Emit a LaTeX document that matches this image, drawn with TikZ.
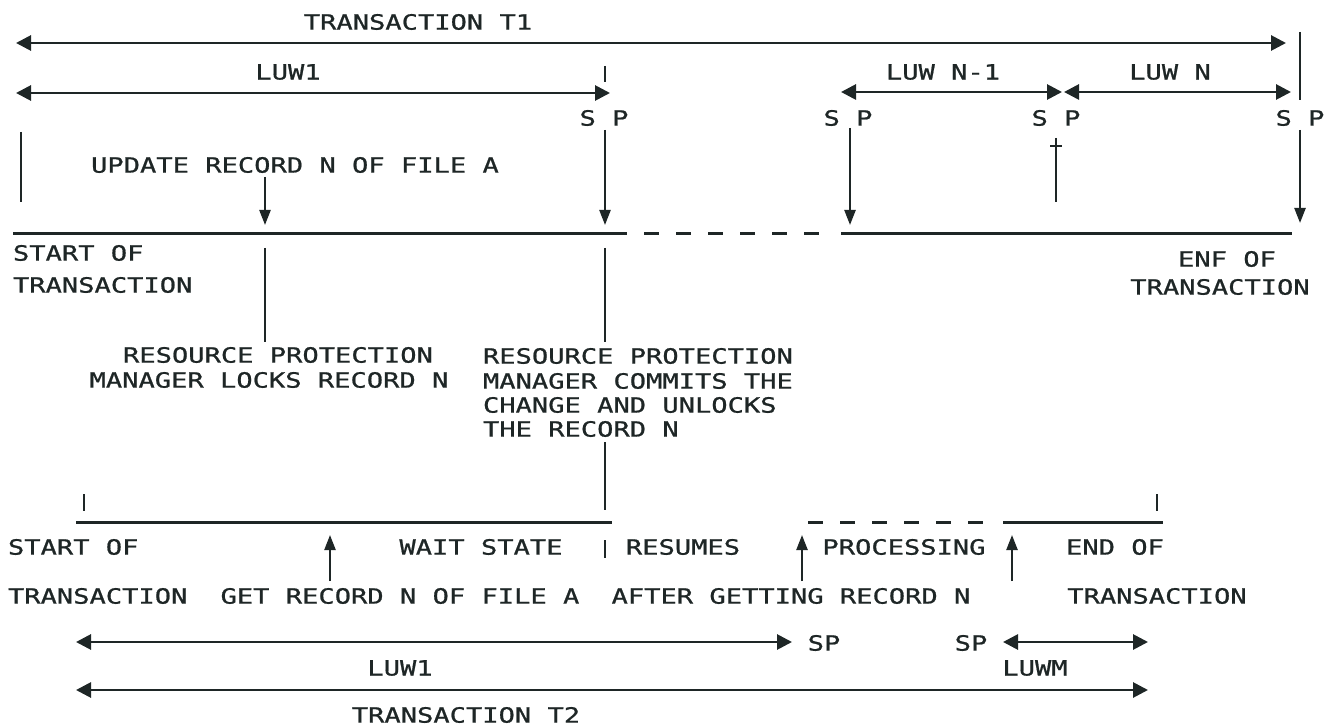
\documentclass[tikz,border=0pt]{standalone}
\usepackage{fontspec}
\newfontfamily\plotfont{DejaVu Sans Mono}[FakeStretch=1.29,FakeBold=0.9]
\usetikzlibrary{arrows.meta}
\definecolor{ink}{RGB}{30,38,38}
\begin{document}
\begin{tikzpicture}[x=1pt,y=-1pt,
  every node/.style={inner sep=0pt, outer sep=0pt, text=ink, font=\plotfont\fontsize{21}{25}\selectfont},
  lbl/.style={anchor=center},
  lblw/.style={anchor=west},
  tline/.style={draw=ink, line width=3pt},
  dline/.style={draw=ink, line width=3pt, dash pattern=on 15pt off 17pt},
  vline/.style={draw=ink, line width=2.3pt},
  span/.style={draw=ink, line width=2.8pt, {Triangle[length=15pt,width=15pt]}-{Triangle[length=15pt,width=15pt]}},
  varrow/.style={draw=ink, line width=2.3pt, -{Triangle[length=15pt,width=11pt]}}
]
\fill[white] (0,0) rectangle (1325,727);
\useasboundingbox (0,0) rectangle (1325,727);

% ---------- top texts ----------
\node[lbl] (t1) at (418,22) {TRANSACTION T1};
\node[lbl] (luw1t) at (288,72) {LUW1};
\node[lbl] (luwn1) at (943,72) {LUW N-1};
\node[lbl] (luwn) at (1170,72) {LUW N};
\node[lbl] (sp1) at (604,118) {S P};
\node[lbl] (sp2) at (848,118) {S P};
\node[lbl] (sp3) at (1056,118) {S P};
\node[lbl] (sp4) at (1300,118) {S P};
\node[lbl] (upd) at (295,165) {UPDATE RECORD N OF FILE A};
\node[lblw] (start1) at (13,253) {START OF};
\node[lblw] (trans1) at (13,285) {TRANSACTION};
\node[lbl] (enf) at (1227,259) {ENF OF};
\node[lbl] (trans1r) at (1220,287) {TRANSACTION};
\node[lbl] (res1) at (278,355) {RESOURCE PROTECTION};
\node[lbl] (mgr1) at (269,380) {MANAGER LOCKS RECORD N};
\node[lblw] (res2a) at (483,356) {RESOURCE PROTECTION};
\node[lblw] (res2b) at (483,381) {MANAGER COMMITS THE};
\node[lblw] (res2c) at (483,405) {CHANGE AND UNLOCKS};
\node[lblw] (res2d) at (483,429) {THE RECORD N};

% ---------- bottom texts ----------
\node[lblw] (start2) at (8,547) {START OF};
\node[lbl] (wait) at (481,547) {WAIT STATE};
\node[lbl] (resumes) at (683,547) {RESUMES};
\node[lbl] (proc) at (904,547) {PROCESSING};
\node[lbl] (endof) at (1115,547) {END OF};
\node[lblw] (trans2) at (8,596) {TRANSACTION};
\node[lbl] (get) at (400,596) {GET RECORD N OF FILE A};
\node[lbl] (after) at (791,596) {AFTER GETTING RECORD N};
\node[lbl] (trans2r) at (1157,596) {TRANSACTION};
\node[lbl] (spb1) at (824,643) {SP};
\node[lbl] (spb2) at (971,643) {SP};
\node[lbl] (luw1b) at (400,668) {LUW1};
\node[lbl] (luwm) at (1035,668) {LUWM};
\node[lbl] (t2) at (466,715) {TRANSACTION T2};

% ---------- coordinates ----------
\coordinate (t1L) at (16,43);   \coordinate (t1R) at (1286,43);
\coordinate (barT) at (1300,32); \coordinate (barB) at (1300,100);
\coordinate (l1L) at (16,93);   \coordinate (l1R) at (610,93);
\coordinate (tkT) at (605,66);  \coordinate (tkB) at (605,82);
\coordinate (n1L) at (841,92);  \coordinate (n1R) at (1062,92);
\coordinate (nL) at (1064,92);  \coordinate (nR) at (1291,92);
\coordinate (a1T) at (605,130); \coordinate (a1B) at (605,225);
\coordinate (a2T) at (265,177); \coordinate (a2B) at (265,225);
\coordinate (a3T) at (850,128); \coordinate (a3B) at (850,225);
\coordinate (a4T) at (1300,130);\coordinate (a4B) at (1300,223);
\coordinate (lbT) at (21,132);  \coordinate (lbB) at (21,202);
\coordinate (crT) at (1056,138);\coordinate (crB) at (1056,202);
\coordinate (crL) at (1050,146);\coordinate (crR) at (1062,146);
\coordinate (m1) at (13,234);   \coordinate (m2) at (627,234);
\coordinate (m3) at (644,234);  \coordinate (m4) at (825,234);
\coordinate (m5) at (841,234);  \coordinate (m6) at (1292,234);
\coordinate (v1T) at (265,248); \coordinate (v1B) at (265,342);
\coordinate (v2T) at (605,248); \coordinate (v2B) at (605,342);
\coordinate (v3T) at (605,442); \coordinate (v3B) at (605,510);
\coordinate (b1) at (76,522);   \coordinate (b2) at (612,522);
\coordinate (b3) at (808,522);  \coordinate (b4) at (985,522);
\coordinate (b5) at (1003,522); \coordinate (b6) at (1163,522);
\coordinate (k1T) at (84,494);  \coordinate (k1B) at (84,511);
\coordinate (k2T) at (1157,494);\coordinate (k2B) at (1157,511);
\coordinate (wbT) at (605,540); \coordinate (wbB) at (605,558);
\coordinate (u1B) at (330,581); \coordinate (u1T) at (330,535);
\coordinate (u2B) at (802,581); \coordinate (u2T) at (802,535);
\coordinate (u3B) at (1012,581);\coordinate (u3T) at (1012,535);
\coordinate (g1L) at (76,642);  \coordinate (g1R) at (792,642);
\coordinate (gmL) at (1003,642);\coordinate (gmR) at (1148,642);
\coordinate (t2L) at (76,690);  \coordinate (t2R) at (1148,690);

% ---------- top drawing ----------
\draw[span] (t1L) -- (t1R);
\draw[vline] (barT) -- (barB);
\draw[span] (l1L) -- (l1R);
\draw[vline] (tkT) -- (tkB);
\draw[span] (n1L) -- (n1R);
\draw[span] (nL) -- (nR);
\draw[varrow] (a1T) -- (a1B);
\draw[varrow] (a2T) -- (a2B);
\draw[varrow] (a3T) -- (a3B);
\draw[varrow] (a4T) -- (a4B);
\draw[vline] (lbT) -- (lbB);
\draw[vline] (crT) -- (crB);
\draw[vline] (crL) -- (crR);
\draw[tline] (m1) -- (m2);
\draw[dline] (m3) -- (m4);
\draw[tline] (m5) -- (m6);
\draw[vline] (v1T) -- (v1B);
\draw[vline] (v2T) -- (v2B);
\draw[vline] (v3T) -- (v3B);

% ---------- bottom drawing ----------
\draw[tline] (b1) -- (b2);
\draw[dline] (b3) -- (b4);
\draw[tline] (b5) -- (b6);
\draw[vline] (k1T) -- (k1B);
\draw[vline] (k2T) -- (k2B);
\draw[vline] (wbT) -- (wbB);
\draw[varrow] (u1B) -- (u1T);
\draw[varrow] (u2B) -- (u2T);
\draw[varrow] (u3B) -- (u3T);
\draw[span] (g1L) -- (g1R);
\draw[span] (gmL) -- (gmR);
\draw[span] (t2L) -- (t2R);
\end{tikzpicture}
\end{document}
